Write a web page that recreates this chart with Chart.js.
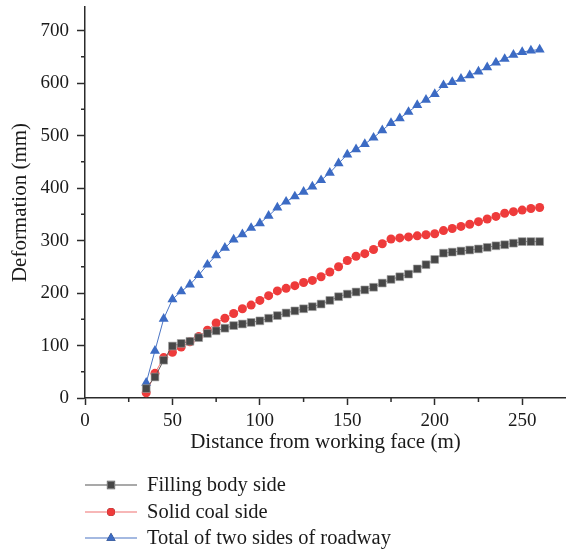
<!DOCTYPE html>
<html>
<head>
<meta charset="utf-8">
<script src="https://cdn.jsdelivr.net/npm/chart.js@4"></script>
<style>
  html, body { margin: 0; padding: 0; background: #fff; }
  #wrap { position: relative; width: 572px; height: 552px; }
</style>
</head>
<body>
<div id="wrap"><canvas id="myChart"></canvas></div>
<script>
// distance from working face (m)
const distance = [35, 40, 45, 50, 55, 60, 65, 70, 75, 80, 85, 90, 95, 100, 105, 110, 115, 120, 125, 130,
  135, 140, 145, 150, 155, 160, 165, 170, 175, 180, 185, 190, 195, 200, 205, 210, 215, 220, 225, 230,
  235, 240, 245, 250, 255, 260];

// deformation (mm)
const fillingBody = [18, 40, 72, 99, 104, 108, 115, 123, 128, 133, 138, 141, 144, 147, 152, 157, 162, 166, 170, 174,
  179, 186, 193, 198, 202, 206, 211, 219, 226, 231, 236, 246, 254, 264, 276, 278, 280, 282, 284, 287,
  290, 292, 295, 298, 298, 298];
const solidCoal = [10, 47, 77, 87, 97, 107, 117, 129, 143, 152, 161, 170, 177, 186, 195, 204, 209, 214, 220, 224,
  231, 240, 250, 262, 270, 275, 283, 294, 303, 305, 307, 309, 311, 313, 319, 323, 327, 331, 336, 341,
  346, 352, 355, 358, 361, 363];
const totalTwoSides = [29, 90, 151, 188, 203, 216, 234, 254, 272, 286, 302, 312, 324, 333, 347, 363, 374, 384, 393, 403,
  415, 429, 447, 464, 474, 484, 496, 510, 524, 533, 545, 558, 568, 579, 596, 602, 608, 615, 622, 630,
  639, 646, 654, 659, 662, 664];

const seriesNames = ['Filling body side', 'Solid coal side', 'Total of two sides of roadway'];
const xTicks = [0, 50, 100, 150, 200, 250];
const xMinor = [25, 75, 125, 175, 225];
const yTicks = [0, 100, 200, 300, 400, 500, 600, 700];
const yMinor = [50, 150, 250, 350, 450, 550, 650];

const serif = "'Liberation Serif', 'Times New Roman', serif";
const axisColor = '#2b2b2b';

function pts(ys) {
  return distance.map((d, i) => ({ x: d, y: ys[i] }));
}

// minor ticks + legend drawn by hand
const extras = {
  id: 'extras',
  afterDraw(chart) {
    const ctx = chart.ctx;
    const xs = chart.scales.x, ys = chart.scales.y;
    ctx.save();
    ctx.strokeStyle = axisColor;
    ctx.lineWidth = 1.5;
    ctx.beginPath();
    xMinor.forEach(v => {
      const px = xs.getPixelForValue(v);
      ctx.moveTo(px, ys.bottom);
      ctx.lineTo(px, ys.bottom + 4);
    });
    yMinor.forEach(v => {
      const py = ys.getPixelForValue(v);
      ctx.moveTo(xs.left, py);
      ctx.lineTo(xs.left - 4, py);
    });
    ctx.stroke();

    // legend
    const rows = [485, 512, 538];
    chart.data.datasets.forEach((ds, i) => {
      const y = rows[i];
      ctx.strokeStyle = ds.borderColor;
      ctx.lineWidth = 1.2;
      ctx.beginPath();
      ctx.moveTo(85, y);
      ctx.lineTo(137, y);
      ctx.stroke();
      Chart.helpers.drawPoint(ctx, {
        pointStyle: ds.pointStyle,
        radius: ds.pointRadius - 0.5,
        rotation: 0,
        borderWidth: ds.pointBorderWidth
      }, 111, y);
      ctx.fillStyle = ds.pointBackgroundColor;
      ctx.strokeStyle = ds.pointBorderColor;
      ctx.lineWidth = ds.pointBorderWidth;
      ctx.fill();
      if (ds.pointBorderWidth) ctx.stroke();
      ctx.fillStyle = '#1a1a1a';
      ctx.font = '20.5px ' + serif;
      ctx.textBaseline = 'middle';
      ctx.textAlign = 'left';
      ctx.fillText(ds.label, 147, y + 1);
    });
    ctx.restore();
  }
};

new Chart(document.getElementById('myChart'), {
  type: 'line',
  data: {
    datasets: [{
      label: seriesNames[0],
      data: pts(fillingBody),
      borderColor: '#555555',
      borderWidth: 1,
      pointStyle: 'rect',
      pointRadius: 5.5,
      pointBackgroundColor: '#474747',
      pointBorderColor: '#a0a0a0',
      pointBorderWidth: 0.6
    }, {
      label: seriesNames[1],
      data: pts(solidCoal),
      borderColor: '#f07070',
      borderWidth: 1,
      pointStyle: 'circle',
      pointRadius: 4.5,
      pointBackgroundColor: '#ee3b3b',
      pointBorderColor: '#ee3b3b',
      pointBorderWidth: 0
    }, {
      label: seriesNames[2],
      data: pts(totalTwoSides),
      borderColor: '#4a74c4',
      borderWidth: 1,
      pointStyle: 'triangle',
      pointRadius: 5.8,
      pointBackgroundColor: '#3c6bc4',
      pointBorderColor: '#3c6bc4',
      pointBorderWidth: 0
    }]
  },
  options: {
    responsive: true,
    maintainAspectRatio: false,
    animation: false,
    layout: { padding: { top: 7, right: 0, bottom: 97, left: 0 } },
    plugins: { legend: { display: false }, tooltip: { enabled: false } },
    scales: {
      x: {
        type: 'linear',
        min: 0,
        max: 275,
        afterBuildTicks(scale) { scale.ticks = xTicks.map(v => ({ value: v })); },
        afterFit(scale) { scale.height = 57; scale.paddingLeft = 0; scale.paddingRight = 0; },
        ticks: {
          color: '#1a1a1a',
          padding: 5,
          font: { family: serif, size: 19 }
        },
        grid: { display: true, drawOnChartArea: false, drawTicks: true, tickLength: 7, tickColor: axisColor, tickWidth: 1.5 },
        border: { color: axisColor, width: 1.5 },
        title: {
          display: true,
          text: 'Distance from working face (m)',
          color: '#1a1a1a',
          font: { family: serif, size: 21 },
          padding: { top: 0, bottom: 0 }
        }
      },
      y: {
        min: 0,
        max: 745,
        afterBuildTicks(scale) { scale.ticks = yTicks.map(v => ({ value: v })); },
        afterFit(scale) { scale.width = 85; scale.paddingTop = 0; scale.paddingBottom = 0; },
        ticks: {
          color: '#1a1a1a',
          padding: 8,
          font: { family: serif, size: 19 }
        },
        grid: { display: true, drawOnChartArea: false, drawTicks: true, tickLength: 8, tickColor: axisColor, tickWidth: 1.5 },
        border: { color: axisColor, width: 1.5 },
        title: {
          display: true,
          text: 'Deformation (mm)',
          color: '#1a1a1a',
          font: { family: serif, size: 21 },
          padding: { top: 8, bottom: 0 }
        }
      }
    }
  },
  plugins: [extras]
});
</script>
</body>
</html>
